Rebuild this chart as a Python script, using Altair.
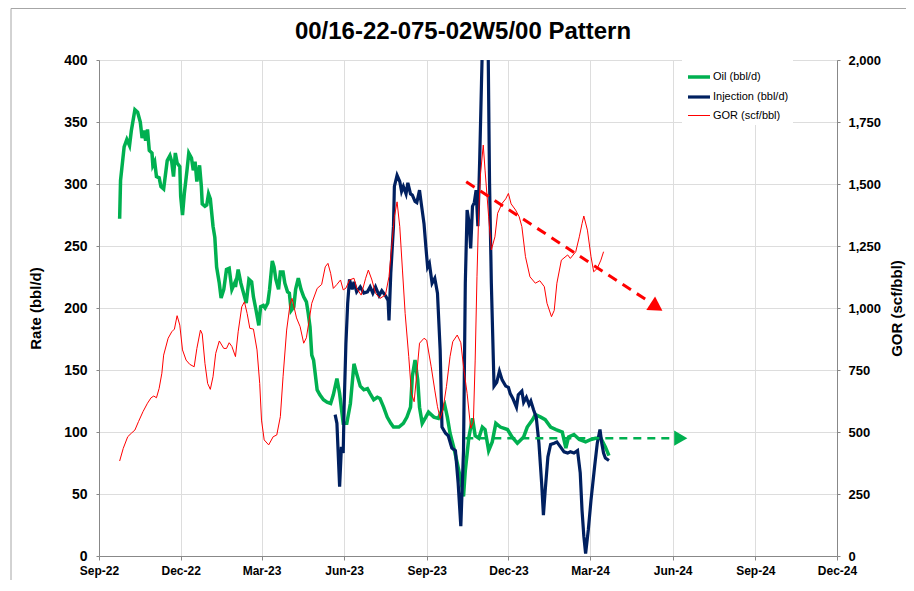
import altair as alt
import pandas as pd

# ---- values (day = days since 2022-09-01) ----
oil_points = [(23,272),(24,303),(28,330),(31,336),(34,331),(36,343),(40,360),(43,358),(46,350),(48,337),(50,343),(52,335),(54,344),(56,327),(59,325),(60,315),(62,318),(64,306),(67,305),(69,298),(72,296),(76,319),(79,323),(81,318),(83,306),(85,325),(87,317),(90,314),(91,290),(93,275),(95,292),(98,311),(100,325),(103,321),(105,311),(107,318),(109,302),(112,315),(114,298),(115,284),(118,282),(120,283),(122,292),(124,288),(127,266),(129,257),(131,233),(134,220),(136,208),(139,215),(142,231),(145,232),(148,215),(151,220),(152,217),(155,231),(158,220),(161,212),(164,204),(167,223),(170,221),(172,209),(175,198),(178,186),(180,201),(183,202),(185,200),(188,204),(190,215),(193,238),(195,233),(197,223),(200,215),(202,229),(205,229),(207,220),(210,213),(212,212),(214,198),(217,201),(219,215),(222,224),(225,215),(228,209),(231,205),(233,196),(235,185),(237,162),(239,158),(243,134),(246,130),(250,126),(254,124),(258,123),(261,130),(265,143),(268,131),(272,107),(276,107),(280,123),(284,155),(287,147),(291,137),(295,134),(299,135),(302,131),(306,126),(310,128),(313,127),(317,120),(321,112),(325,107),(328,104),(334,104),(339,107),(343,112),(347,120),(349,145),(352,158),(355,142),(357,120),(360,107),(364,112),(367,116),(373,112),(378,111),(382,118),(385,122),(388,112),(391,99),(395,88),(399,75),(403,61),(406,48),(408,69),(412,96),(416,111),(419,97),(423,95),(427,104),(430,102),(434,85),(438,92),(442,107),(447,104),(455,102),(460,96),(466,91),(473,96),(477,104),(483,110),(486,114),(492,112),(497,110),(503,104),(509,102),(516,100),(520,87),(523,96),(529,98),(535,94),(542,92),(548,94),(553,95),(559,95),(564,88),(568,81)]

inj_points = [(263,114),(265,107),(268,56),(270,88),(272,83),(273,120),(275,171),(277,204),(279,223),(282,215),(284,221),(287,213),(291,217),(295,212),(299,213),(302,217),(305,212),(308,217),(312,210),(315,214),(319,210),(322,206),(323,190),(325,228),(328,266),(329,298),(332,307),(335,302),(337,294),(339,298),(342,292),(344,301),(347,292),(349,291),(352,286),(354,285),(357,295),(359,284),(362,268),(364,250),(366,233),(368,236),(371,220),(374,224),(377,212),(380,166),(382,104),(386,99),(389,97),(393,87),(397,85),(400,59),(403,24),(406,85),(408,220),(410,279),(412,270),(414,248),(416,282),(418,285),(420,295),(422,266),(424,319),(426,381),(428,440),(433,440),(435,301),(437,220),(440,137),(443,140),(446,149),(449,142),(453,137),(456,136),(458,131),(461,127),(465,120),(467,130),(471,133),(473,124),(476,128),(479,122),(481,125),(484,118),(487,112),(490,91),(493,59),(495,33),(497,53),(500,80),(503,90),(507,91),(510,92),(514,88),(518,84),(522,83),(525,84),(529,83),(533,85),(536,67),(538,37),(540,16),(542,2),(545,21),(548,45),(552,72),(555,91),(558,102),(560,91),(562,83),(564,79),(568,77)]

gor_points = [(23,383),(27,434),(32,481),(36,495),(40,508),(44,542),(49,582),(54,616),(58,638),(61,645),(64,638),(67,676),(70,737),(72,810),(77,878),(81,904),(84,915),(87,969),(90,931),(93,831),(97,790),(101,773),(106,763),(109,837),(113,911),(115,895),(118,777),(121,696),(124,672),(127,723),(130,817),(134,867),(139,837),(142,837),(145,860),(148,845),(152,804),(155,904),(159,1005),(162,1025),(165,978),(168,918),(172,915),(176,831),(179,696),(181,548),(184,468),(189,448),(194,481),(198,488),(202,562),(205,723),(209,911),(213,1020),(215,1039),(220,960),(224,925),(228,858),(231,880),(237,1019),(243,1079),(248,1095),(252,1166),(255,1180),(258,1140),(261,1079),(265,1095),(269,1113),(272,1073),(275,1080),(279,1113),(284,1120),(287,1080),(292,1052),(297,1120),(300,1153),(304,1113),(308,1059),(313,1039),(319,1052),(323,1126),(326,1247),(329,1368),(332,1428),(335,1328),(338,1153),(341,978),(345,804),(348,656),(351,622),(354,737),(357,858),(362,878),(365,870),(370,763),(374,669),(377,602),(380,555),(383,589),(387,683),(391,804),(394,864),(399,891),(403,860),(406,763),(410,656),(414,515),(417,540),(419,790),(421,1126),(423,1395),(425,1543),(428,1657),(430,1556),(434,1368),(437,1234),(441,1287),(444,1382),(449,1422),(453,1440),(456,1462),(459,1420),(464,1395),(468,1368),(471,1328),(475,1207),(480,1126),(486,1100),(491,1110),(496,1086),(499,1019),(504,965),(507,990),(510,1100),(515,1193),(522,1214),(525,1200),(531,1227),(535,1287),(538,1340),(540,1371),(544,1314),(548,1207),(551,1146),(555,1160),(559,1193),(562,1227)]

# trend arrows
oil_trend_day = [408, 639]
oil_trend_val = [95, 95]
oil_head_day = [648]
oil_head_val = [95]
gor_trend_day = [409, 615]
gor_trend_val = [1509, 1020]
gor_head_day = [621]
gor_head_val = [1004]

series_names = ["Oil (bbl/d)", "Injection (bbl/d)", "GOR (scf/bbl)"]
series_colors = ["#00B050", "#002060", "#FF0000"]
series_widths = [3.5, 3.2, 1]

BASE = pd.Timestamp("2022-09-01")


def to_dates(days):
    return BASE + pd.to_timedelta(list(days), unit="D")


def frame(points, name):
    d, v = zip(*points)
    return pd.DataFrame({"date": to_dates(d), "value": list(v), "series": name})


oil_df = frame(oil_points, series_names[0])
inj_df = frame(inj_points, series_names[1])
gor_df = frame(gor_points, series_names[2])
oil_tr = pd.DataFrame({"date": to_dates(oil_trend_day), "value": oil_trend_val})
oil_hd = pd.DataFrame({"date": to_dates(oil_head_day), "value": oil_head_val})
gor_tr = pd.DataFrame({"date": to_dates(gor_trend_day), "value": gor_trend_val})
gor_hd = pd.DataFrame({"date": to_dates(gor_head_day), "value": gor_head_val})

FONT = "Liberation Sans"
GRID = "#8A929F"

tick_vals = [alt.DateTime(year=y, month=m, date=1) for (y, m) in
             [(2022, 9), (2022, 12), (2023, 3), (2023, 6), (2023, 9), (2023, 12),
              (2024, 3), (2024, 6), (2024, 9), (2024, 12)]]

x_enc = alt.X("date:T",
              scale=alt.Scale(domain=[tick_vals[0], tick_vals[-1]]),
              axis=alt.Axis(values=tick_vals, format="%b-%y", title=None,
                            labelFontSize=12, labelFontWeight="bold", labelFont=FONT,
                            tickSize=4, labelPadding=5,
                            labelFlush=False, labelOverlap=False))

y_left = alt.Y("value:Q",
               scale=alt.Scale(domain=[0, 400], nice=False),
               axis=alt.Axis(values=list(range(0, 401, 50)), title="Rate (bbl/d)",
                             labelFontSize=14, labelFontWeight="bold", labelFont=FONT,
                             tickSize=3, labelPadding=9,
                             titleFontSize=15, titlePadding=20))

y_right = alt.Y("value:Q",
                scale=alt.Scale(domain=[0, 2000], nice=False),
                axis=alt.Axis(orient="right", values=list(range(0, 2001, 250)), format=",.0f",
                              title="GOR (scf/bbl)", grid=False, labelFontSize=13,
                              labelFontWeight="bold", labelFont=FONT,
                              tickSize=3, labelPadding=8, titleFontSize=15,
                              titlePadding=24, titleAngle=270))

color_enc = alt.Color("series:N",
                      scale=alt.Scale(domain=series_names, range=series_colors),
                      legend=alt.Legend(title=None, orient="none", legendX=583, legendY=0,
                                        fillColor="white", padding=4, symbolType="stroke",
                                        symbolSize=484, rowPadding=0, labelFontSize=11,
                                        labelFont=FONT, labelFontWeight="normal",
                                        labelOffset=1, labelColor="black"))
width_enc = alt.StrokeWidth("series:N",
                            scale=alt.Scale(type="ordinal", domain=series_names,
                                            range=series_widths))

outer = alt.Chart(pd.DataFrame({"k": [0]})).mark_rect(
    filled=False, color="#A6A6A6", strokeWidth=1, clip=False
).encode(x=alt.value(-88), x2=alt.value(1000), y=alt.value(-51.5), y2=alt.value(800))

oil_line = alt.Chart(oil_df).mark_line(clip=True).encode(
    x=x_enc, y=y_left, color=color_enc, strokeWidth=width_enc)
inj_line = alt.Chart(inj_df).mark_line(clip=True).encode(
    x=x_enc, y=y_left, color=color_enc, strokeWidth=width_enc)
oil_trend = alt.Chart(oil_tr).mark_line(color="#00B050", strokeWidth=2.5,
                                        strokeDash=[8, 6]).encode(x=x_enc, y=y_left)
oil_head = alt.Chart(oil_hd).mark_point(shape="triangle-right", filled=True, size=230,
                                        color="#00B050", opacity=1).encode(x=x_enc, y=y_left)

left = alt.layer(outer, oil_line, inj_line, oil_trend, oil_head)

gor_line = alt.Chart(gor_df).mark_line(clip=True).encode(
    x=x_enc, y=y_right, color=color_enc, strokeWidth=width_enc)
gor_trend = alt.Chart(gor_tr).mark_line(color="#FF0000", strokeWidth=3,
                                        strokeDash=[10, 7]).encode(x=x_enc, y=y_right)
gor_head = alt.Chart(gor_hd).mark_point(shape="triangle-right", filled=True, size=260, angle=33,
                                        color="#FF0000", opacity=1).encode(x=x_enc, y=y_right)

right = alt.layer(gor_line, gor_trend, gor_head)

chart = alt.layer(left, right).resolve_scale(y="independent").properties(
    width=738, height=496,
    autosize=alt.AutoSizeParams(type="none"),
    padding={"left": 91, "top": 52, "right": 69, "bottom": 24},
    title=alt.TitleParams("00/16-22-075-02W5/00 Pattern", font=FONT, fontSize=24,
                          fontWeight="bold", color="black", anchor="middle", frame="group",
                          baseline="alphabetic", offset=-55, dx=-5),
).configure_view(
    stroke=GRID, strokeWidth=1.5
).configure_axis(
    gridColor=GRID, gridWidth=1.5, gridOpacity=1, domainColor=GRID, domainWidth=1.5,
    tickColor=GRID, tickWidth=1.5, labelFont=FONT, labelFontWeight="bold",
    labelColor="black", titleFont=FONT, titleFontWeight="bold", titleColor="black"
).configure(background="white")

chart.save("out.html", embed_options={"renderer": "svg", "actions": False})
